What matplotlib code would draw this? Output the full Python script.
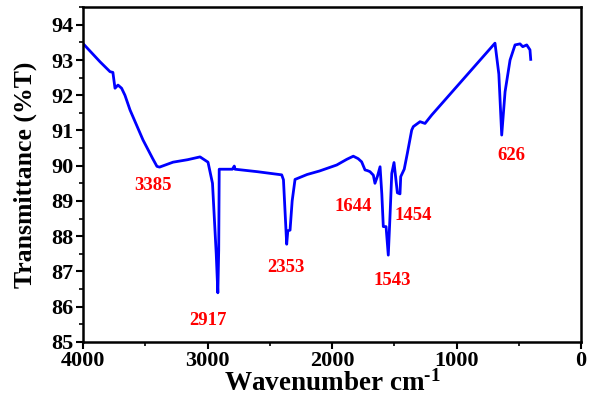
import matplotlib
matplotlib.use("Agg")
import matplotlib.pyplot as plt
from matplotlib.ticker import MultipleLocator

plt.rcParams["font.family"] = ["Liberation Serif", "DejaVu Serif"]
plt.rcParams["font.weight"] = "bold"
plt.rcParams["mathtext.fontset"] = "custom"
plt.rcParams["mathtext.rm"] = "Liberation Serif:bold"
plt.rcParams["mathtext.default"] = "rm"

# spectrum (wavenumber, %T)
wavenumber = [4000, 3863, 3783, 3760, 3743, 3719, 3690, 3663, 3622, 3518, 3440, 3406,
              3385, 3277, 3160, 3060, 2996, 2960, 2930, 2917, 2910, 2906, 2850,
              2800, 2785, 2779, 2600, 2404, 2390, 2364, 2355, 2337, 2320, 2297,
              2200, 2100, 1962, 1882, 1829, 1790, 1762, 1735, 1715, 1695, 1668,
              1655, 1635, 1614, 1600, 1588, 1566, 1548, 1535, 1520, 1502, 1475,
              1454, 1448, 1420, 1395, 1360, 1347, 1293, 1253, 1199, 691, 660, 637,
              610, 570, 530, 490, 468, 436, 410, 404]
transmittance = [93.47, 92.95, 92.67, 92.65, 92.2, 92.29, 92.2, 92.0, 91.58, 90.73, 90.2, 89.98,
                 89.96, 90.1, 90.17, 90.25, 90.1, 89.5, 87.5, 86.39, 87.6, 89.9, 89.9,
                 89.9, 89.99, 89.9, 89.83, 89.74, 89.6, 87.77, 88.15, 88.17, 89.0, 89.61,
                 89.75, 89.85, 90.02, 90.18, 90.27, 90.2, 90.11, 89.88, 89.86, 89.83, 89.73,
                 89.5, 89.7, 89.97, 89.2, 88.27, 88.27, 87.46, 88.5, 89.78, 90.09, 89.23,
                 89.2, 89.69, 89.9, 90.35, 91.01, 91.11, 91.25, 91.2, 91.44, 93.48, 92.6, 90.87,
                 92.1, 93.0, 93.43, 93.46, 93.38, 93.43, 93.29, 93.02]

peak_labels = ["3385", "2917", "2353", "1644", "1454", "1543", "626"]
label_x = [3438, 2996, 2369, 1831, 1349, 1518, 562]
label_y = [89.45, 85.6, 87.12, 88.83, 88.58, 86.75, 90.3]

fig = plt.figure(figsize=(5.95, 4.03), dpi=100)
ax = fig.add_axes([0.1395, 0.152, 0.837, 0.830])
ax.plot(wavenumber, transmittance, color="#0000ff", linewidth=2)

for txt, px, py in zip(peak_labels, label_x, label_y):
    ax.text(px, py, txt, color="red", fontsize=13.5, fontweight="bold",
            ha="center", va="center")

ax.set_xlim(4000, 0)
ax.set_ylim(85, 94.5)
ax.xaxis.set_major_locator(MultipleLocator(1000))
ax.xaxis.set_minor_locator(MultipleLocator(500))
ax.yaxis.set_major_locator(MultipleLocator(1))
ax.yaxis.set_minor_locator(MultipleLocator(0.5))
ax.tick_params(which="major", direction="out", length=5, width=1.5, labelsize=16, pad=2)
ax.tick_params(which="minor", direction="out", length=3, width=1.2)
for s in ax.spines.values():
    s.set_linewidth(1.8)

ax.set_xlabel(r"Wavenumber cm$^{\text{-}1}$", fontsize=19.5, fontweight="bold", labelpad=-1)
ax.set_ylabel("Transmittance (%T)", fontsize=18.5, fontweight="bold", labelpad=10)

fig.savefig("out.png", dpi=100)
